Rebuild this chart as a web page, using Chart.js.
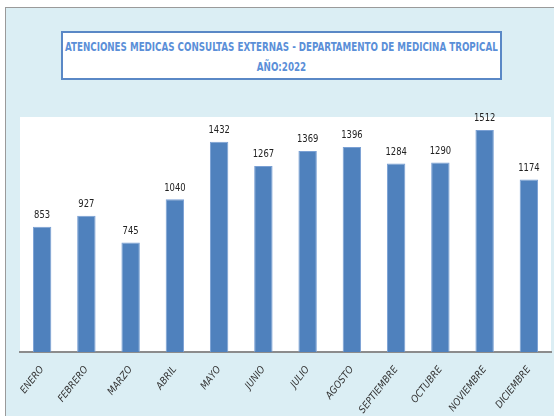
<!DOCTYPE html>
<html>
<head>
<meta charset="utf-8">
<script src="https://cdn.jsdelivr.net/npm/chart.js@4"></script>
<style>
  html, body { margin: 0; padding: 0; }
  body { width: 554px; height: 416px; background: #ffffff; position: relative; overflow: hidden; }
  #frame {
    position: absolute; left: 5px; top: 7px; width: 560px; height: 420px;
    background: #dbeef4; border-left: 1px solid #9a9a9a; border-top: 1px solid #9a9a9a;
  }
  #wrap { position: absolute; left: 0; top: 0; width: 554px; height: 416px; }
  #title {
    position: absolute; left: 61px; top: 31px; width: 437px; height: 41px;
    background: #ffffff; border: 2px solid #5a88c6;
    font-family: "Liberation Sans Narrow", "DejaVu Sans Condensed", Arial, sans-serif;
    font-weight: bold; font-size: 12px; line-height: 20px; color: #5b8fd8;
    text-align: center; padding-top: 4px; box-sizing: content-box;
  }
  #title span { display: inline-block; white-space: nowrap; transform-origin: center; }
</style>
</head>
<body>
<div id="frame"></div>
<div id="wrap"><canvas id="chart" width="554" height="416"></canvas></div>
<div id="title"><span id="t1">ATENCIONES MEDICAS CONSULTAS EXTERNAS - DEPARTAMENTO DE MEDICINA TROPICAL</span><br><span id="t2">AÑO:2022</span></div>
<script>
const months = ['ENERO', 'FEBRERO', 'MARZO', 'ABRIL', 'MAYO', 'JUNIO', 'JULIO', 'AGOSTO', 'SEPTIEMBRE', 'OCTUBRE', 'NOVIEMBRE', 'DICIEMBRE'];
const attentions = [853, 927, 745, 1040, 1432, 1267, 1369, 1396, 1284, 1290, 1512, 1174];

const narrow = '"Liberation Sans Narrow", "DejaVu Sans Condensed", Arial, sans-serif';

// squeeze the title to the width of the original narrow font
const t1 = document.getElementById('t1');
const squeeze = Math.min(1, 433 / t1.offsetWidth);
t1.style.transform = 'scaleX(' + squeeze + ')';
t1.style.margin = '0 ' + (-(t1.offsetWidth * (1 - squeeze)) / 2) + 'px';
document.getElementById('t2').style.transform = 'scaleX(' + squeeze + ')';

// white plot area like the spreadsheet chart
const plotArea = {
    id: 'plotArea',
    beforeDraw(chart) {
        const { ctx, chartArea } = chart;
        ctx.save();
        ctx.fillStyle = '#ffffff';
        ctx.fillRect(chartArea.left, chartArea.top, chartArea.right - chartArea.left, chartArea.bottom - chartArea.top);
        ctx.restore();
    }
};

// value above each bar
const valueLabels = {
    id: 'valueLabels',
    afterDatasetsDraw(chart) {
        const { ctx } = chart;
        const meta = chart.getDatasetMeta(0);
        ctx.save();
        ctx.font = '11px ' + narrow;
        ctx.fillStyle = '#222222';
        ctx.textAlign = 'center';
        ctx.textBaseline = 'bottom';
        meta.data.forEach((bar, i) => {
            ctx.save();
            ctx.translate(bar.x, bar.y - 6);
            ctx.scale(0.85, 1);
            ctx.fillText(String(attentions[i]), 0, 0);
            ctx.restore();
        });
        ctx.restore();
    }
};

new Chart(document.getElementById('chart'), {
    type: 'bar',
    data: {
        labels: months,
        datasets: [{
            data: attentions,
            backgroundColor: '#4f81bd',
            borderColor: '#7aa0d4',
            borderWidth: 1,
            categoryPercentage: 0.8,
            barPercentage: 0.52
        }]
    },
    options: {
        responsive: false,
        animation: false,
        layout: { padding: { left: 20, right: 3, top: 117, bottom: 0 } },
        plugins: {
            legend: { display: false },
            tooltip: { enabled: false }
        },
        scales: {
            y: {
                display: false,
                min: 0,
                max: 1600
            },
            x: {
                grid: { display: false },
                border: { display: true, color: '#8c8c8c', width: 2 },
                ticks: {
                    minRotation: 52,
                    maxRotation: 52,
                    padding: 4,
                    color: '#333333',
                    font: { family: narrow, size: 10, style: 'italic' }
                },
                afterFit(scale) { scale.height = 64; }
            }
        }
    },
    plugins: [plotArea, valueLabels]
});
</script>
</body>
</html>
